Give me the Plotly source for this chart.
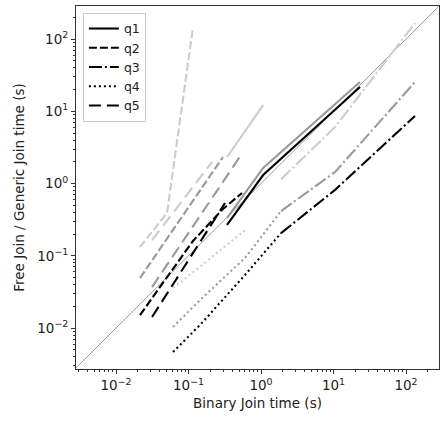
import plotly.graph_objects as go

# ---- data ----
queries = ["q1", "q2", "q3", "q4", "q5"]

q1_x = [0.340, 1.07, 23.2]
q1_black = [0.267, 1.31, 21.7]
q1_grey = [0.333, 1.64, 25.4]
q1_light = [2.33, 12.2]

q2_x = [0.0214, 0.0505, 0.115, 0.299, 0.547]
q2_black = [0.01514, 0.0500, 0.160, 0.444, 0.739]
q2_grey = [0.0492, 0.171, 0.573, 2.33]
q2_light = [0.132, 0.391, 142]

q3_x = [1.89, 10.5, 133]
q3_black = [0.206, 0.818, 8.60]
q3_grey = [0.416, 1.44, 25.4]
q3_light = [1.15, 6.05, 166]

q4_x = [0.0611, 0.144, 0.601, 1.89]
q4_black = [0.00466, 0.01101, 0.0542, 0.2065]
q4_grey = [0.01033, 0.0244, 0.0931, 0.416]
q4_light = [0.0358, 0.0705, 0.227]

q5_x = [0.0314, 0.0763, 0.211, 0.319, 0.530]
q5_black = [0.01420, 0.0577, 0.284, 0.537]
q5_grey = [0.0369, 0.139, 0.630, 1.15, 2.48]
q5_light = [0.165, 0.520, 1.98]

diag = [1e-3, 1e3]

major_vals = [1e-2, 1e-1, 1e0, 1e1, 1e2]
major_text = ["10<sup>−2</sup>", "10<sup>−1</sup>", "10<sup>0</sup>",
              "10<sup>1</sup>", "10<sup>2</sup>"]

# ---- styling ----
FONT = "DejaVu Sans"
dashes = {"q1": "solid", "q2": "8px,3px", "q3": "13px,3px,2px,3px",
          "q4": "2px,3px", "q5": "12px,6px"}
colors = {"light": "#cccccc", "grey": "#999999", "black": "#000000"}

series = {
    "q1": (q1_x, q1_black, q1_grey, q1_light),
    "q2": (q2_x, q2_black, q2_grey, q2_light),
    "q3": (q3_x, q3_black, q3_grey, q3_light),
    "q4": (q4_x, q4_black, q4_grey, q4_light),
    "q5": (q5_x, q5_black, q5_grey, q5_light),
}

fig = go.Figure()

fig.add_trace(go.Scatter(x=diag, y=diag, mode="lines",
                         line=dict(color="#808080", width=0.8),
                         showlegend=False, hoverinfo="skip"))

for level in ["light", "grey"]:
    for q in queries:
        xs, yb, yg, yl = series[q]
        ys = yl if level == "light" else yg
        fig.add_trace(go.Scatter(x=xs[:len(ys)], y=ys, mode="lines",
                                 line=dict(color=colors[level], width=2.1, dash=dashes[q]),
                                 showlegend=False))
for q in queries:
    xs, yb, yg, yl = series[q]
    fig.add_trace(go.Scatter(x=xs[:len(yb)], y=yb, mode="lines", name=q,
                             line=dict(color=colors["black"], width=2.1, dash=dashes[q]),
                             showlegend=True))

minor_vals = [m * 10.0 ** e for e in range(-3, 3) for m in range(2, 10)]

axis_common = dict(
    type="log", showgrid=False, zeroline=False, automargin=False,
    showline=True, linecolor="#333333", linewidth=1, mirror=True,
    ticks="outside", ticklen=4, tickwidth=1, tickcolor="#333333",
    tickvals=major_vals, ticktext=major_text,
    tickfont=dict(family=FONT, size=13.5, color="#222222"),
    minor=dict(ticks="outside", ticklen=2, tickwidth=0.7, tickcolor="#333333",
               tickvals=minor_vals, showgrid=False),
)

fig.update_layout(
    width=446, height=421,
    margin=dict(l=76, r=7, t=6, b=52, autoexpand=False),
    paper_bgcolor="white", plot_bgcolor="white",
    font=dict(family=FONT, size=13.5, color="#222222"),
    xaxis=dict(**axis_common, range=[-2.552, 2.455],
               title=dict(text="Binary Join time (s)", standoff=6,
                          font=dict(family=FONT, size=13.5))),
    yaxis=dict(**axis_common, range=[-2.567, 2.457],
               title=dict(text="Free Join / Generic Join time (s)", standoff=9,
                          font=dict(family=FONT, size=13.5))),
    legend=dict(x=0.019, y=0.981, xanchor="left", yanchor="top",
                bgcolor="rgba(255,255,255,0.8)", bordercolor="#cccccc", borderwidth=1,
                font=dict(family=FONT, size=12.5), itemwidth=30,
                tracegroupgap=0),
)

fig.write_html("out.html", config={"displayModeBar": False},
               post_script="document.body.style.margin='0';")
